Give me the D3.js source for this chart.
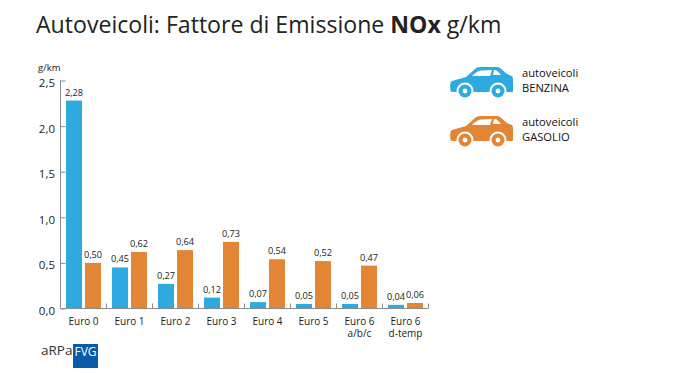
<!DOCTYPE html>
<html>
<head>
<meta charset="utf-8">
<script src="https://cdnjs.cloudflare.com/ajax/libs/d3/7.8.5/d3.min.js"></script>
<style>
html, body { margin: 0; padding: 0; background: #fff; }
svg { display: block; }
text { font-family: "Open Sans", sans-serif; fill: #222; }
</style>
</head>
<body>
<script>
const categories = [['Euro 0'], ['Euro 1'], ['Euro 2'], ['Euro 3'], ['Euro 4'], ['Euro 5'], ['Euro 6', 'a/b/c'], ['Euro 6', 'd-temp']]
const benzina = [2.28, 0.45, 0.27, 0.12, 0.07, 0.05, 0.05, 0.04]
const gasolio = [0.50, 0.62, 0.64, 0.73, 0.54, 0.52, 0.47, 0.06]
const yTicks = [0, 0.5, 1, 1.5, 2, 2.5]

const blue = '#2daadf'
const orange = '#e28535'
const axisColor = '#8c8c8c'
const fmt = v => v.toFixed(2).replace('.', ',')

const svg = d3.select('body').append('svg').attr('width', 674).attr('height', 373)

// title
const title = svg.append('text').attr('x', 36).attr('y', 33).style('font-size', '23.1px')
title.append('tspan').text('Autoveicoli: Fattore di Emissione ')
title.append('tspan').style('font-weight', 700).text('NOx')
title.append('tspan').text(' g/km')

const xScale = d3.scaleBand()
    .domain(d3.range(categories.length))
    .range([60.5, 428.5])

const yScale = d3.scaleLinear()
    .domain([0, 2.5])
    .range([308.5, 80.5])

// 16px bars, 3px apart, inside each 46px group
const seriesScale = d3.scaleBand()
    .domain(['benzina', 'gasolio'])
    .range([5.5, 40.5])
    .paddingInner(3 / 19)

const series = [
    { key: 'benzina', values: benzina, color: blue },
    { key: 'gasolio', values: gasolio, color: orange }
]

series.forEach(s => {
    const g = svg.append('g')
    g.selectAll('rect')
        .data(s.values)
        .enter()
        .append('rect')
            .attr('x', (d, i) => xScale(i) + seriesScale(s.key))
            .attr('y', d => yScale(d))
            .attr('width', seriesScale.bandwidth())
            .attr('height', d => yScale(0) - yScale(d))
            .style('fill', s.color)
    g.selectAll('text')
        .data(s.values)
        .enter()
        .append('text')
            .attr('x', (d, i) => xScale(i) + seriesScale(s.key) + seriesScale.bandwidth() / 2)
            .attr('y', d => yScale(d) - 5)
            .attr('text-anchor', 'middle')
            .style('font-size', '9.2px')
            .text(fmt)
})

// y axis, ticks point into the plot
const yAxis = svg.append('g')
    .attr('transform', 'translate(60.5,0)')
    .call(d3.axisRight(yScale).tickValues(yTicks).tickSize(5).tickFormat(''))
yAxis.select('.domain').attr('d', `M0,${yScale(2.5)}V${yScale(0)}`).style('stroke', axisColor)
yAxis.selectAll('line').style('stroke', axisColor)

svg.append('g').selectAll('text')
    .data(yTicks)
    .enter()
    .append('text')
        .attr('x', 55)
        .attr('y', d => yScale(d) + 6.5)
        .attr('text-anchor', 'end')
        .style('font-size', '11.5px')
        .text(d => d.toFixed(1).replace('.', ','))

svg.append('text').attr('x', 38).attr('y', 71).style('font-size', '9.5px').text('g/km')

// x axis
const edges = d3.range(categories.length + 1).map(i => 60.5 + i * xScale.bandwidth())
svg.append('line')
    .attr('x1', 60.5).attr('x2', 428.5)
    .attr('y1', yScale(0)).attr('y2', yScale(0))
    .style('stroke', axisColor)
svg.append('g').selectAll('line')
    .data(edges.slice(1))
    .enter()
    .append('line')
        .attr('x1', d => d).attr('x2', d => d)
        .attr('y1', yScale(0) - 5).attr('y2', yScale(0))
        .style('stroke', axisColor)

const labels = svg.append('g').selectAll('text')
    .data(categories)
    .enter()
    .append('text')
        .attr('text-anchor', 'middle')
        .style('font-size', '10px')
labels.selectAll('tspan')
    .data((d, i) => d.map((t, j) => ({ t, j, i })))
    .enter()
    .append('tspan')
        .attr('x', d => xScale(d.i) + xScale.bandwidth() / 2)
        .attr('y', d => 325 + d.j * 11.5)
        .text(d => d.t)

// legend
function car(x, y, color) {
    const g = svg.append('g').attr('transform', `translate(${x},${y})`)
    g.append('path')
        .attr('d', 'M0.5,24 C0,18 0,15 2,14 L16,10 L25,2 C27,0 30,0 32,0 L47,0 C50,0 52,3 57,7 L62,9 C63,10 63,12 63,14 L63,24 C63,25 62,25 61,25 L2,25 Z')
        .style('fill', color)
    g.append('path').attr('d', 'M22,9 C26,5 29,3.5 32,3.5 L42,3 L40,9 Z').style('fill', '#fff')
    g.append('path').attr('d', 'M44,3 L47,3.5 L51,8 L43,8 Z').style('fill', '#fff')
    ;[15, 48].forEach(cx => {
        g.append('circle').attr('cx', cx).attr('cy', 24).attr('r', 8.5).style('fill', '#fff')
        g.append('circle').attr('cx', cx).attr('cy', 24).attr('r', 6.5).style('fill', color)
        g.append('circle').attr('cx', cx).attr('cy', 24).attr('r', 2.4).style('fill', '#fff')
    })
}
car(450, 67, blue)
car(450, 116, orange)

const legendRows = [['autoveicoli', 'BENZINA', 77], ['autoveicoli', 'GASOLIO', 126]]
legendRows.forEach(r => {
    svg.append('text').attr('x', 522).attr('y', r[2]).style('font-size', '11.2px').style('fill', '#111').text(r[0])
    svg.append('text').attr('x', 522).attr('y', r[2] + 15).style('font-size', '11.2px').style('fill', '#111').text(r[1])
})

// logo
svg.append('text').attr('x', 41).attr('y', 355).style('font-size', '13.5px').style('fill', '#333').text('aRPa')
svg.append('rect').attr('x', 73).attr('y', 344).attr('width', 25).attr('height', 24).style('fill', '#0a5aa8')
svg.append('text').attr('x', 85.5).attr('y', 356).attr('text-anchor', 'middle').style('font-size', '12px').style('fill', '#fff').text('FVG')
</script>
</body>
</html>
